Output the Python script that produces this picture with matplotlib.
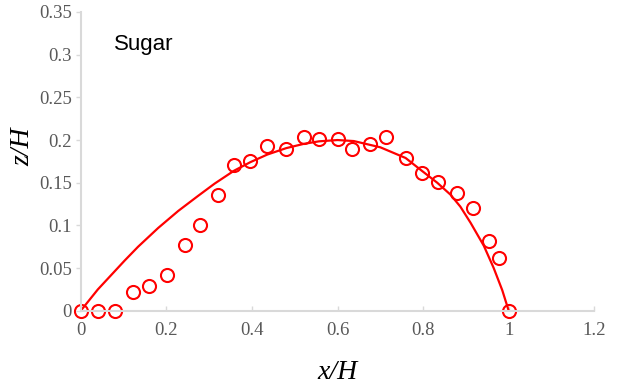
import matplotlib.pyplot as plt
import numpy as np

# measured points
x_meas = [0.0, 0.041, 0.081, 0.122, 0.160, 0.201, 0.243, 0.279, 0.321, 0.358,
          0.396, 0.436, 0.480, 0.521, 0.557, 0.600, 0.635, 0.677, 0.714, 0.759,
          0.798, 0.834, 0.879, 0.916, 0.954, 0.977, 1.0]
z_meas = [0.0, 0.0, 0.0, 0.022, 0.029, 0.042, 0.077, 0.101, 0.136, 0.171,
          0.175, 0.193, 0.190, 0.203, 0.201, 0.201, 0.190, 0.195, 0.204, 0.179,
          0.161, 0.151, 0.138, 0.120, 0.082, 0.062, 0.0]

# model curve
x_fit = [0.0, 0.040, 0.103, 0.134, 0.181, 0.228, 0.274, 0.313, 0.358, 0.396,
         0.436, 0.480, 0.521, 0.557, 0.600, 0.638, 0.700, 0.759, 0.798, 0.833,
         0.864, 0.887, 0.911, 0.942, 0.965, 0.985, 1.0]
z_fit = [0.0, 0.025, 0.059, 0.075, 0.097, 0.117, 0.1345, 0.149, 0.164, 0.174,
         0.183, 0.1905, 0.1955, 0.1985, 0.200, 0.1988, 0.1915, 0.179, 0.1636, 0.150,
         0.136, 0.122, 0.103, 0.076, 0.050, 0.024, 0.0]

xticks = [0, 0.2, 0.4, 0.6, 0.8, 1, 1.2]
yticks = [0, 0.05, 0.1, 0.15, 0.2, 0.25, 0.3, 0.35]

fig = plt.figure(figsize=(6.21, 3.87), dpi=100)
ax = fig.add_axes([0.130, 0.197, 0.827, 0.772])

ax.plot(x_fit, z_fit, color='red', lw=1.6)
ax.plot(x_meas, z_meas, 'o', mfc='none', mec='red', ms=9.4, mew=1.5, clip_on=False)

ax.set_xlim(0, 1.2)
ax.set_ylim(0, 0.35)
ax.set_xticks(xticks)
ax.set_xticklabels(['0', '0.2', '0.4', '0.6', '0.8', '1', '1.2'])
ax.set_yticks(yticks)
ax.set_yticklabels(['0', '0.05', '0.1', '0.15', '0.2', '0.25', '0.3', '0.35'])

for s in ['top', 'right']:
    ax.spines[s].set_visible(False)
for s in ['left', 'bottom']:
    ax.spines[s].set_color('#d9d9d9')
    ax.spines[s].set_linewidth(1.5)

ax.tick_params(axis='x', direction='in', length=3.5, width=1, color='#d9d9d9', pad=8,
               labelsize=13.5, labelcolor='#595959')
ax.tick_params(axis='y', direction='out', length=3.5, width=1, color='#d9d9d9', pad=3,
               labelsize=13.5, labelcolor='#595959')
for lab in ax.get_xticklabels() + ax.get_yticklabels():
    lab.set_family('Liberation Serif')

ax.set_xlabel('x/H', family='Liberation Serif', style='italic', fontsize=20, labelpad=15)
ax.set_ylabel('z/H', family='Liberation Serif', style='italic', fontsize=20)
ax.yaxis.set_label_coords(-0.089, 0.548)

ax.text(0.077, 0.305, 'Sugar', family='Liberation Sans', fontsize=16, color='black')

fig.savefig('out.png', dpi=100)
